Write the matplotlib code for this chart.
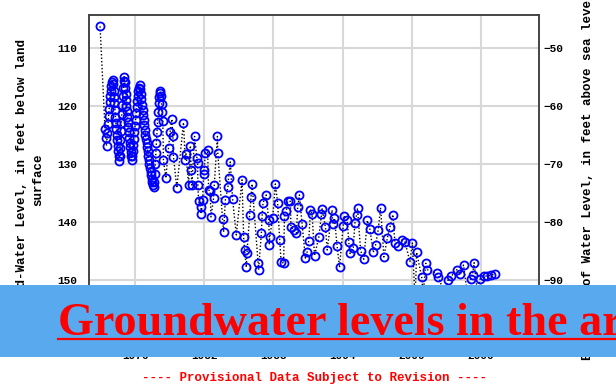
import matplotlib
matplotlib.use("Agg")
import matplotlib.pyplot as plt
from matplotlib.patches import Rectangle
from matplotlib.lines import Line2D

# ---- data: measurement dates (decimal years) and depth below land surface (ft) ----
years = [
    1972.96, 1973.39, 1973.46, 1973.52, 1973.59,
    1973.65, 1973.70, 1973.75, 1973.80, 1973.85, 1973.90, 1973.95, 1974.00, 1974.05,
    1974.09, 1974.13, 1974.17, 1974.21, 1974.25, 1974.29, 1974.33, 1974.37, 1974.41,
    1974.45, 1974.49, 1974.53, 1974.57, 1974.61,
    1974.65, 1974.69, 1974.73, 1974.77, 1974.81, 1974.85, 1974.89, 1974.93, 1974.97,
    1975.01, 1975.05,
    1975.09, 1975.13, 1975.17, 1975.21, 1975.25, 1975.29, 1975.33, 1975.37, 1975.41,
    1975.45, 1975.49, 1975.53, 1975.57, 1975.61, 1975.65, 1975.69,
    1975.74, 1975.79, 1975.84, 1975.89, 1975.94, 1975.99, 1976.04, 1976.09, 1976.14,
    1976.19, 1976.24, 1976.29, 1976.34, 1976.40,
    1976.45, 1976.50, 1976.55, 1976.60, 1976.65, 1976.70, 1976.75, 1976.80, 1976.85,
    1976.90, 1976.95, 1977.00, 1977.05, 1977.10, 1977.15, 1977.20, 1977.25, 1977.30,
    1977.35, 1977.40, 1977.45, 1977.50, 1977.55, 1977.60,
    1977.65, 1977.70, 1977.75, 1977.80, 1977.85, 1977.90, 1977.95, 1978.00, 1978.05,
    1978.10, 1978.15, 1978.20,
    1978.25, 1978.30, 1978.35, 1978.40, 1978.46, 1978.67, 1978.90,
    1979.04, 1979.19, 1979.28, 1979.33, 1979.62, 1980.20, 1980.35, 1980.42, 1980.64,
    1980.80, 1980.87, 1980.93, 1981.16, 1981.36, 1981.42, 1981.45, 1981.51, 1981.71,
    1981.73, 1981.86, 1981.94, 1982.00, 1982.09, 1982.29, 1982.38, 1982.52, 1982.58,
    1982.81, 1982.87, 1983.14, 1983.18, 1983.59, 1983.68, 1983.83, 1984.06, 1984.11,
    1984.26, 1984.46, 1984.78, 1985.28, 1985.42, 1985.50, 1985.65, 1985.71, 1985.94,
    1986.06, 1986.15, 1986.67, 1986.72, 1986.96, 1987.02, 1987.10, 1987.37, 1987.60,
    1987.65, 1987.68, 1987.94, 1988.17, 1988.37, 1988.55, 1988.67, 1988.89, 1988.96,
    1989.13, 1989.24, 1989.48, 1989.52, 1989.77, 1990.00, 1990.11, 1990.26, 1990.49,
    1990.78, 1990.93, 1991.07, 1991.22, 1991.36, 1991.57, 1991.94, 1992.17, 1992.23,
    1992.52, 1992.67, 1993.10, 1993.15, 1993.30, 1993.53, 1993.74, 1994.06, 1994.10,
    1994.41, 1994.55, 1994.64, 1994.93, 1995.07, 1995.22, 1995.30, 1995.57, 1995.85,
    1996.15, 1996.37, 1996.67, 1996.87, 1997.10, 1997.30, 1997.59, 1997.88, 1998.11,
    1998.37, 1998.55, 1998.84, 1999.13, 1999.42, 1999.85, 2000.06, 2000.30, 2000.43,
    2000.87, 2001.00, 2001.22, 2001.36, 2002.17, 2002.32, 2002.80, 2003.16, 2003.45,
    2003.91, 2004.20, 2004.50, 2004.80, 2005.13, 2005.28, 2005.42, 2005.70, 2005.94,
    2006.29, 2006.58, 2006.87, 2007.22,
]
depth = [
    106.2, 123.9, 125.4, 126.8, 124.6,
    123.0, 121.6, 120.4, 119.2, 118.3, 117.4, 116.5, 115.8, 115.4,
    116.2, 117.3, 118.4, 119.5, 120.6, 121.8, 122.9, 123.9, 124.9,
    125.9, 126.8, 127.7, 128.6, 129.4,
    128.5, 127.2, 125.8, 124.3, 122.8, 121.3, 119.8, 118.3, 116.9,
    115.7, 114.9,
    115.8, 116.8, 117.8, 118.9, 119.9, 120.9, 121.8, 122.7, 123.6,
    124.5, 125.4, 126.3, 127.1, 127.9, 128.6, 129.3,
    128.6, 127.7, 126.7, 125.6, 124.5, 123.4, 122.3, 121.2, 120.1,
    119.1, 118.2, 117.4, 116.8, 116.3,
    117.0, 117.9, 118.8, 119.7, 120.6, 121.5, 122.4, 123.3, 124.1,
    124.9, 125.7, 126.4, 127.1, 127.8, 128.5, 129.2, 129.9, 130.6,
    131.3, 131.9, 132.5, 133.1, 133.6, 133.9,
    133.0, 131.6, 129.9, 128.1, 126.3, 124.5, 122.7, 121.0, 119.5,
    118.4, 117.7, 117.4,
    118.3, 119.6, 121.0, 122.6, 129.3, 132.4, 127.2,
    124.4, 122.2, 125.1, 128.7, 134.1, 122.8, 129.3, 128.2, 133.6,
    126.8, 131.0, 133.6, 125.2, 128.9, 129.8, 133.6, 136.4, 137.3,
    138.6, 136.2, 131.6, 131.0, 128.1, 127.5, 134.4, 134.7, 139.1,
    135.9, 133.6, 125.2, 128.1, 139.5, 141.7, 136.2, 133.9, 132.4,
    129.6, 136.0, 142.2, 132.7, 142.5, 144.8, 147.8, 145.3, 138.7,
    135.7, 133.4, 147.0, 148.2, 141.8, 139.0, 136.7, 135.3, 139.7,
    143.9, 142.6, 139.3, 133.4, 136.7, 143.1, 146.8, 147.1, 139.0,
    138.0, 136.4, 136.4, 140.8, 141.3, 141.9, 137.3, 135.3, 140.3,
    146.2, 145.1, 143.2, 137.9, 138.6, 145.8, 142.6, 138.6, 137.7,
    140.9, 144.8, 137.9, 140.3, 139.3, 144.1, 147.8, 140.6, 138.9,
    139.7, 143.5, 145.4, 144.5, 140.2, 138.7, 137.6, 144.9, 146.4,
    139.7, 141.2, 145.2, 143.9, 141.3, 137.5, 146.0, 142.8, 140.9,
    138.7, 143.6, 144.1, 143.1, 143.4, 146.8, 143.6, 153.5, 145.2,
    149.5, 152.5, 147.1, 148.2, 148.8, 149.5, 152.0, 150.0, 149.3,
    148.2, 148.9, 147.4, 151.8, 149.8, 149.1, 147.0, 152.0, 149.8,
    149.3, 149.3, 149.1, 149.0,
]

x_ticks = [1976, 1982, 1988, 1994, 2000, 2006]
depth_ticks = [110, 120, 130, 140, 150, 160]
elev_ticks = [-50, -60, -70, -80, -90, -100]
land_surface = 60  # ft above sea level

W, H = 616, 389
fig = plt.figure(figsize=(W / 100, H / 100), dpi=100)
ax = fig.add_axes([89 / W, (H - 341) / H, 450 / W, 326 / H])

mono = "Liberation Mono"

ax.plot(years, depth, linestyle=(0, (1, 1.5)), color="black", lw=1.0, zorder=2)
ax.plot(years, depth, linestyle="none", marker="o", ms=5.8, mfc="none",
        mec="#0000ff", mew=1.3, zorder=3)

ax.set_xlim(1972.0, 2011.05)
ax.set_ylim(160.5, 104.25)
ax.set_xticks(x_ticks)
ax.set_yticks(depth_ticks)
ax.grid(True, color="#d8d8d8", lw=1.5, zorder=0)
ax.set_axisbelow(True)
ax.tick_params(length=0, labelsize=8)
ax.tick_params(axis="y", pad=8.5)
ax.tick_params(axis="x", pad=7.0)
for lab in ax.get_xticklabels() + ax.get_yticklabels():
    lab.set_fontfamily(mono)
    lab.set_fontweight("bold")
for s in ax.spines.values():
    s.set_color("#444444")
    s.set_linewidth(1.2)

ax2 = ax.twinx()
ax2.set_ylim(land_surface - 160.5, land_surface - 104.25)
ax2.set_yticks(elev_ticks)
ax2.tick_params(length=0, labelsize=8, pad=3.5)
for lab in ax2.get_yticklabels():
    lab.set_fontfamily(mono)
    lab.set_fontweight("bold")
for s in ax2.spines.values():
    s.set_color("#444444")
    s.set_linewidth(1.2)

# axis titles
fig.text(22 / W, 1 - 181 / H, "Ground-Water Level, in feet below land",
         rotation=90, ha="center", va="center", fontsize=9, family=mono, weight="bold")
fig.text(38 / W, 1 - 180 / H, "surface", rotation=90, ha="center", va="center",
         fontsize=9, family=mono, weight="bold")
fig.text(588 / W, 1 - 176 / H, "Elevation of Water Level, in feet above sea level",
         rotation=90, ha="center", va="center", fontsize=9, family=mono, weight="bold")

fig.text(314 / W, 1 - 378 / H, "---- Provisional Data Subject to Revision ----",
         ha="center", va="center", fontsize=9, family=mono, weight="bold", color="red")

# banner over the chart
fig.patches.append(Rectangle((0, 1 - 357 / H), 1, 72 / H, transform=fig.transFigure,
                             facecolor="#59a9ee", edgecolor="none", zorder=10))
fig.text(58 / W, 1 - 335 / H, "Groundwater levels in the area", ha="left", va="baseline",
         fontsize=33.2, family="Liberation Serif", weight="bold", color="red", zorder=11)
fig.lines.append(Line2D([58 / W, 1], [1 - 338.5 / H, 1 - 338.5 / H], transform=fig.transFigure,
                        color="red", lw=1.6, zorder=11))

fig.savefig("out.png", dpi=100)
